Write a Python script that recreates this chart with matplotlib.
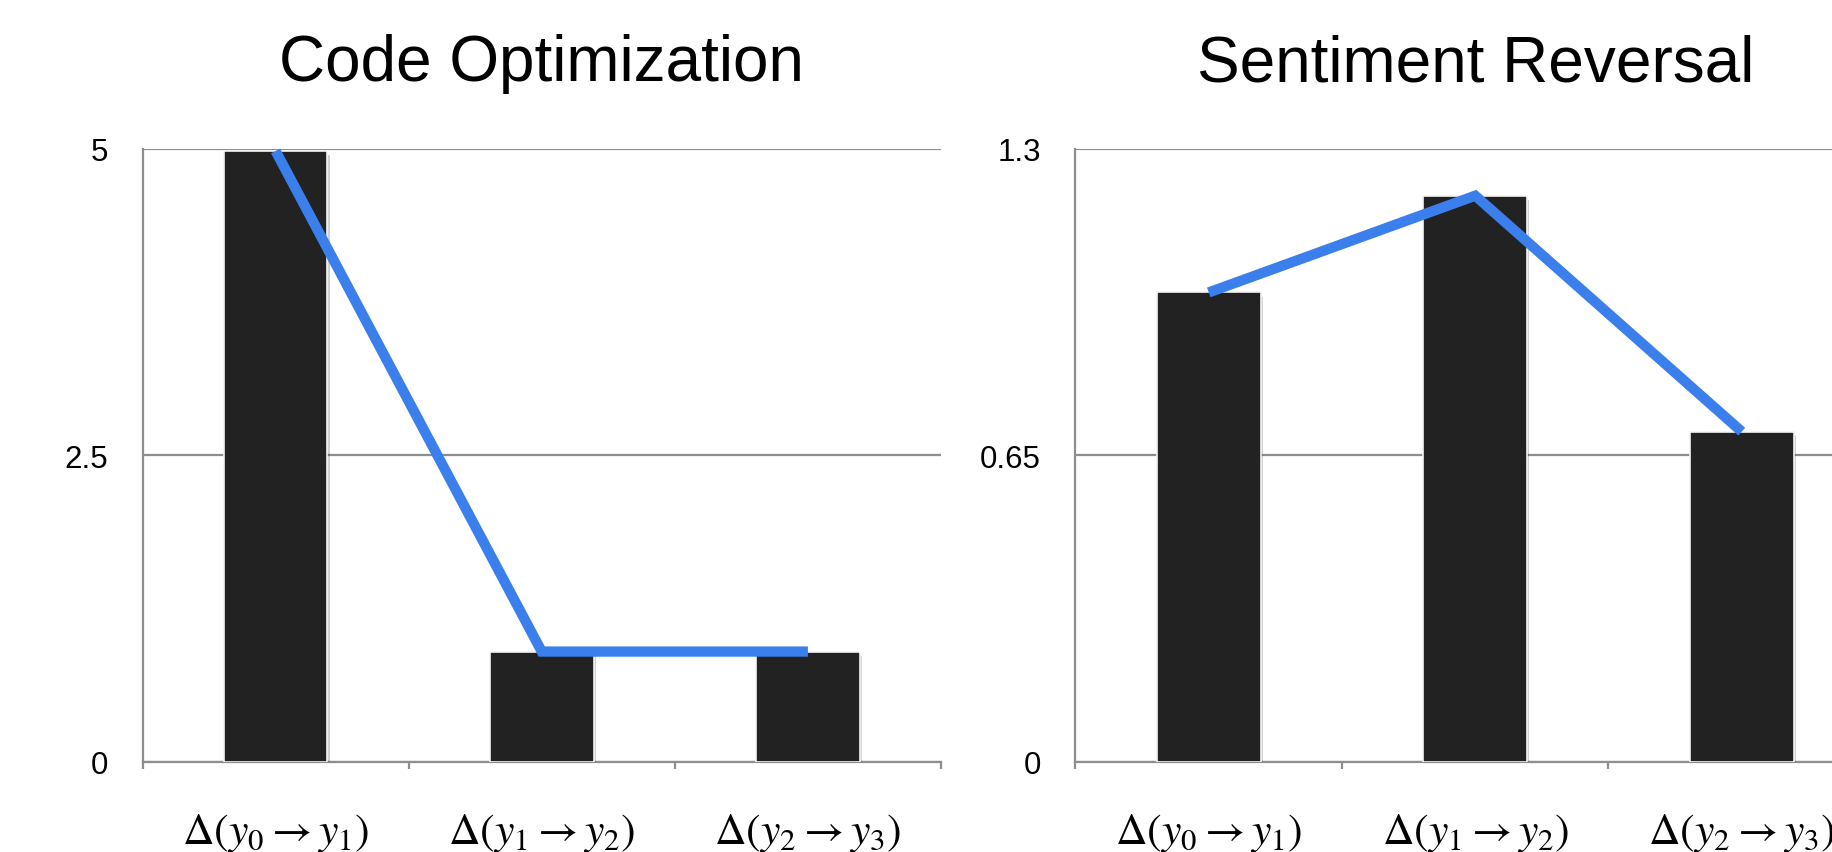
import matplotlib
matplotlib.use("Agg")
import matplotlib.pyplot as plt
import matplotlib.patheffects as pe
import numpy as np

# ---- data ----
categories = [r"$\Delta(y_0 \rightarrow y_1)$",
              r"$\Delta(y_1 \rightarrow y_2)$",
              r"$\Delta(y_2 \rightarrow y_3)$"]
titles = ["Code Optimization", "Sentiment Reversal"]
code_opt_values = [4.98, 0.9, 0.9]
sentiment_values = [0.995, 1.2, 0.7]
code_opt_yticks = [0, 2.5, 5]
code_opt_yticklabels = ["0", "2.5", "5"]
sentiment_yticks = [0, 0.65, 1.3]
sentiment_yticklabels = ["0", "0.65", "1.3"]

plt.rcParams["mathtext.fontset"] = "stix"
plt.rcParams["font.family"] = ["Liberation Sans", "DejaVu Sans"]

W, H = 1833, 853
fig = plt.figure(figsize=(W / 100, H / 100), dpi=100)

grid_c = "#8e8e8e"
bar_c = "#222222"
line_c = "#3b7fec"

def px_axes(left, top, right, bottom):
    return [left / W, 1 - bottom / H, (right - left) / W, (bottom - top) / H]

panels = [
    (px_axes(142.5, 149.5, 941, 763), titles[0], code_opt_values,
     code_opt_yticks, code_opt_yticklabels),
    (px_axes(1075.5, 149.5, 1875, 763), titles[1], sentiment_values,
     sentiment_yticks, sentiment_yticklabels),
]

for rect, title, vals, yt, ytl in panels:
    ax = fig.add_axes(rect)
    x = np.arange(len(vals))
    bars = ax.bar(x, vals, width=0.39, color=bar_c, edgecolor="#f4f4f4",
                  linewidth=1.2, zorder=3)
    for b in bars:
        b.set_path_effects([pe.SimplePatchShadow(offset=(1.5, -3), shadow_rgbFace="#000000", alpha=0.18),
                            pe.Normal()])
    ax.plot(x, vals, color=line_c, linewidth=7.4, solid_capstyle="butt",
            solid_joinstyle="miter", zorder=4, clip_on=False)
    ax.set_xlim(-0.5, len(vals) - 0.5)
    ax.set_ylim(yt[0], yt[-1])
    ax.set_yticks(yt)
    ax.set_yticklabels(ytl, fontsize=22.5)
    ax.tick_params(axis="y", length=0, pad=25)
    ax.yaxis.grid(True, color=grid_c, linewidth=1.6, zorder=0)
    ax.set_axisbelow(True)
    ax.set_xticks(x)
    ax.set_xticklabels(categories, fontsize=31.5)
    ax.tick_params(axis="x", length=0, pad=35)
    ax.set_xticks(np.arange(-0.5, len(vals), 1.0), minor=True)
    ax.tick_params(axis="x", which="minor", length=5, width=1.6, color=grid_c, direction="out")
    for s in ["top", "right"]:
        ax.spines[s].set_visible(False)
    for s in ["left", "bottom"]:
        ax.spines[s].set_color(grid_c)
        ax.spines[s].set_linewidth(1.6)
    ax.set_title(title, fontsize=46, pad=49)

fig.savefig("out.png", dpi=100)
